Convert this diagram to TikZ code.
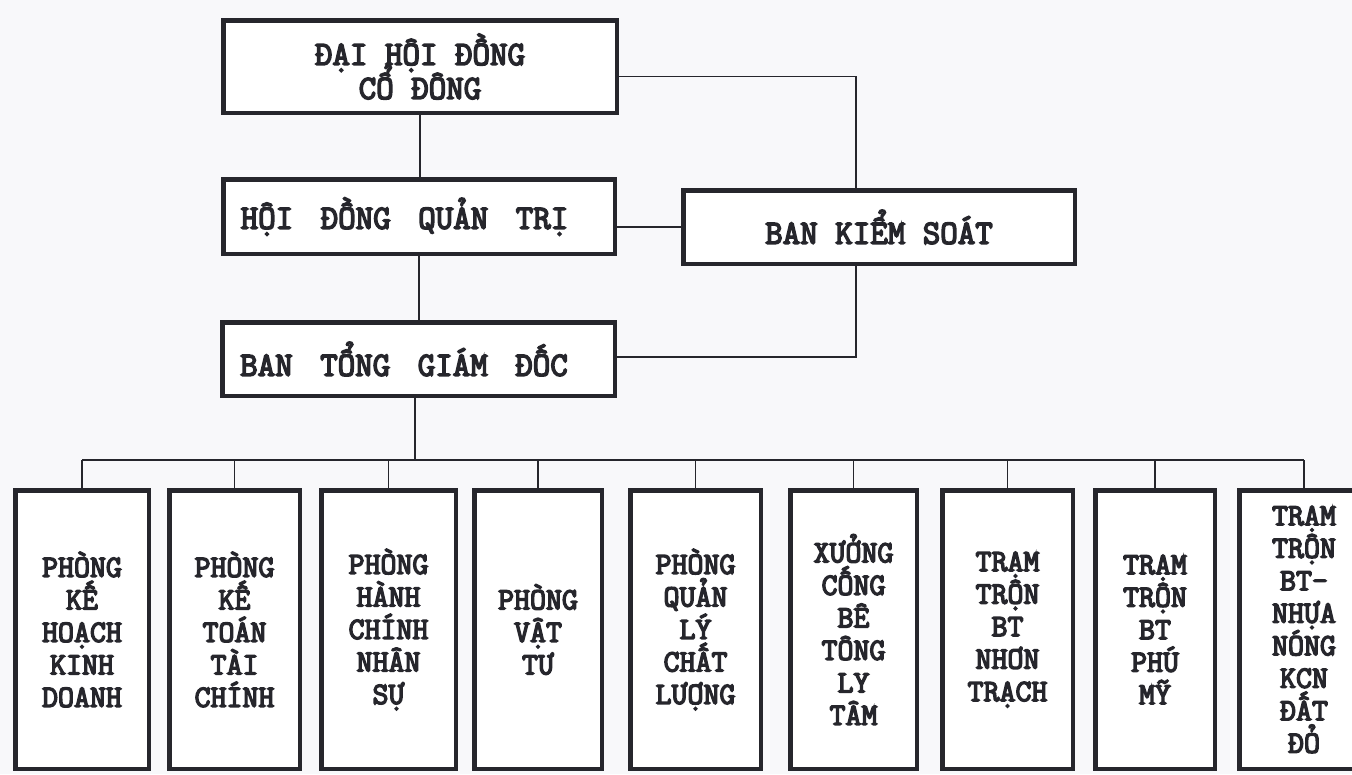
\documentclass[tikz,border=0pt]{standalone}
\usepackage{fontspec}
\setmainfont{Latin Modern Mono}[FakeBold=4.5]
\definecolor{paper}{RGB}{248,248,250}
\definecolor{ink}{RGB}{38,38,44}
\newcommand\wgap{\hspace{10pt}}
\newcommand\nolsk{\lineskiplimit=-100pt\relax}
\begin{document}
\begin{tikzpicture}[x=1pt,y=-1pt,
  topbox/.style={draw=ink,line width=4.5pt,fill=white,inner sep=0pt,align=center,text=ink,
    font={\fontsize{34}{34}\selectfont\nolsk}},
  lowbox/.style={draw=ink,line width=4.5pt,fill=white,inner sep=0pt,align=center,text=ink,
    minimum height=278.5pt,font={\fontsize{31}{32.5}\selectfont\nolsk}},
  conn/.style={draw=ink,line width=1.8pt}]
\path[use as bounding box,clip] (0,0) rectangle (1352,774);
\fill[paper] (0,0) rectangle (1352,774);

% upper level
\node[topbox,minimum width=393.5pt,minimum height=92.5pt] (dh) at (420,66.5) {ĐẠI HỘI ĐỒNG\\CỔ ĐÔNG};
\node[topbox,minimum width=391.5pt,minimum height=74.5pt] (hd) at (419,216.5) {HỘI\wgap{} ĐỒNG\wgap{} QUẢN\wgap{} TRỊ\hspace{29pt}};
\node[topbox,minimum width=391.5pt,minimum height=73.5pt] (bk) at (879,227) {BAN KIỂM SOÁT};
\node[topbox,minimum width=392.5pt,minimum height=73.5pt] (bg) at (418.5,359) {BAN\wgap{} TỔNG\wgap{} GIÁM\wgap{} ĐỐC\hspace{29pt}};

\draw[conn] (dh.south) -- (dh.south |- hd.north);
\draw[conn] (hd.south) -- (hd.south |- bg.north);
\draw[conn] ([yshift=-10pt]dh.east) -| ([xshift=-23pt]bk.north);
\draw[conn] (bk.west) -- (bk.west -| hd.east);
\draw[conn] ([xshift=-23pt]bk.south) |- ([yshift=2pt]bg.east);

% lower level
\node[lowbox,minimum width=133.5pt] (b1) at (82,629.5) {PHÒNG\\KẾ\\HOẠCH\\KINH\\DOANH};
\node[lowbox,minimum width=130.5pt] (b2) at (234.5,629.5) {PHÒNG\\KẾ\\TOÁN\\TÀI\\CHÍNH};
\node[lowbox,minimum width=134.5pt] (b3) at (388.5,629.5) {PHÒNG\\HÀNH\\CHÍNH\\NHÂN\\SỰ};
\node[lowbox,minimum width=127.5pt] (b4) at (538,629.5) {PHÒNG\\VẬT\\TƯ};
\node[lowbox,minimum width=130.5pt] (b5) at (695.5,629.5) {PHÒNG\\QUẢN\\LÝ\\CHẤT\\LƯỢNG};
\node[lowbox,minimum width=126.5pt] (b6) at (853.5,629.5) {XƯỞNG\\CỐNG\\BÊ\\TÔNG\\LY\\TÂM};
\node[lowbox,minimum width=130.5pt] (b7) at (1007.5,629.5) {TRẠM\\TRỘN\\BT\\NHƠN\\TRẠCH};
\node[lowbox,minimum width=119.5pt] (b8) at (1155,629.5) {TRẠM\\TRỘN\\BT\\PHÚ\\MỸ};
\node[lowbox,minimum width=129.5pt] (b9) at (1304,629.5) {TRẠM\\TRỘN\\BT-\\NHỰA\\NÓNG\\KCN\\ĐẤT\\ĐỎ};

\coordinate (busL) at (82,460);
\coordinate (busR) at (1304,460);
\draw[conn] (busL) -- (busR);
\draw[conn] ([xshift=-3.5pt]bg.south) -- ([xshift=-3.5pt]bg.south |- busL);
\foreach \b in {b1,b2,b3,b4,b5,b6,b7,b8,b9}
  \draw[conn] (\b.north) -- (\b.north |- busL);
\end{tikzpicture}
\end{document}
